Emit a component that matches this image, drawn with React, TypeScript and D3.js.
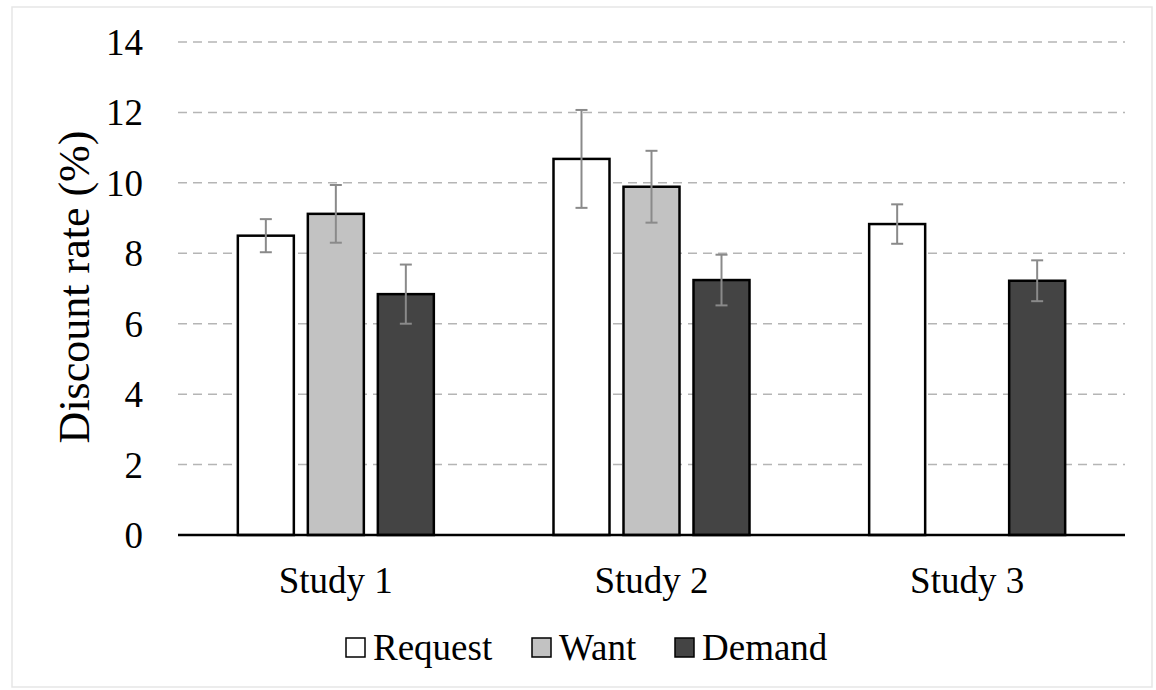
import React, { useRef, useEffect } from 'react';
import * as d3 from 'd3';

const studies = ['Study 1', 'Study 2', 'Study 3'];
const seriesNames = ['Request', 'Want', 'Demand'];
const request = [8.5, 10.68, 8.83];
const want = [9.12, 9.89, null];
const demand = [6.84, 7.24, 7.22];
const requestErr = [0.47, 1.39, 0.56];
const wantErr = [0.82, 1.02, null];
const demandErr = [0.84, 0.72, 0.58];
const yTicks = [0, 2, 4, 6, 8, 10, 12, 14];

const fills = ['#ffffff', '#c2c2c2', '#444444'];
const font = '"Liberation Serif", "Times New Roman", serif';

function App() {
  const svgRef = useRef<SVGSVGElement>(null);

  useEffect(() => {
    const svg = d3.select(svgRef.current);
    svg.selectAll('*').remove();

    const width = 1156;
    const height = 690;
    const plot = { left: 178, right: 1125, top: 42, bottom: 535 };

    // light frame around the figure
    svg.append('rect')
      .attr('x', 12).attr('y', 7)
      .attr('width', 1140).attr('height', 680)
      .attr('fill', '#fff')
      .attr('stroke', '#e6e6e6')
      .attr('stroke-width', 1.5);

    const x0 = d3.scaleBand().domain(studies).range([plot.left, plot.right]);
    const x1 = d3.scaleBand().domain(seriesNames)
      .range([x0.bandwidth() / 2 - 98, x0.bandwidth() / 2 + 98])
      .paddingInner(0.2);
    const y = d3.scaleLinear().domain([0, 14]).range([plot.bottom, plot.top]);

    // grid
    svg.append('g').selectAll('line')
      .data(yTicks.filter(t => t > 0))
      .enter().append('line')
      .attr('x1', plot.left).attr('x2', plot.right)
      .attr('y1', d => y(d)).attr('y2', d => y(d))
      .attr('stroke', '#b5b5b5')
      .attr('stroke-width', 1.5)
      .attr('stroke-dasharray', '9,6');

    // y tick labels
    svg.append('g').selectAll('text')
      .data(yTicks)
      .enter().append('text')
      .attr('x', 143)
      .attr('y', d => y(d))
      .attr('dy', '0.35em')
      .attr('text-anchor', 'end')
      .attr('font-family', font)
      .attr('font-size', 37)
      .attr('fill', '#000')
      .text(d => d);

    svg.append('text')
      .attr('transform', `translate(89,287) rotate(-90)`)
      .attr('text-anchor', 'middle')
      .attr('font-family', font)
      .attr('font-size', 44)
      .text('Discount rate (%)');

    const vals = [request, want, demand];
    const errs = [requestErr, wantErr, demandErr];
    const rows: { study: string; series: string; i: number; v: number; e: number }[] = [];
    studies.forEach((s, si) => {
      seriesNames.forEach((n, i) => {
        const v = vals[i][si];
        const e = errs[i][si];
        if (v != null) rows.push({ study: s, series: n, i, v, e: e as number });
      });
    });

    const g = svg.append('g');
    g.selectAll('rect.bar')
      .data(rows)
      .enter().append('rect')
      .attr('class', 'bar')
      .attr('x', d => x0(d.study)! + x1(d.series)!)
      .attr('y', d => y(d.v))
      .attr('width', x1.bandwidth())
      .attr('height', d => y(0) - y(d.v))
      .attr('fill', d => fills[d.i])
      .attr('stroke', '#000')
      .attr('stroke-width', 2.5);

    // error bars
    const eb = g.selectAll('g.err')
      .data(rows)
      .enter().append('g')
      .attr('stroke', '#8a8a8a')
      .attr('stroke-width', 2);
    const cx = (d: any) => x0(d.study)! + x1(d.series)! + x1.bandwidth() / 2;
    eb.append('line')
      .attr('x1', cx).attr('x2', cx)
      .attr('y1', d => y(d.v + d.e)).attr('y2', d => y(d.v - d.e));
    eb.append('line')
      .attr('x1', d => cx(d) - 6).attr('x2', d => cx(d) + 6)
      .attr('y1', d => y(d.v + d.e)).attr('y2', d => y(d.v + d.e));
    eb.append('line')
      .attr('x1', d => cx(d) - 6).attr('x2', d => cx(d) + 6)
      .attr('y1', d => y(d.v - d.e)).attr('y2', d => y(d.v - d.e));

    // baseline
    svg.append('line')
      .attr('x1', plot.left).attr('x2', plot.right)
      .attr('y1', y(0)).attr('y2', y(0))
      .attr('stroke', '#000')
      .attr('stroke-width', 2.5);

    // category labels
    svg.append('g').selectAll('text')
      .data(studies)
      .enter().append('text')
      .attr('x', d => x0(d)! + x0.bandwidth() / 2)
      .attr('y', 593)
      .attr('text-anchor', 'middle')
      .attr('font-family', font)
      .attr('font-size', 37)
      .text(d => d);

    // legend
    const legendX = [346, 532, 675];
    const lg = svg.append('g').selectAll('g')
      .data(seriesNames)
      .enter().append('g')
      .attr('transform', (d, i) => `translate(${legendX[i]},638)`);
    lg.append('rect')
      .attr('width', 19).attr('height', 19)
      .attr('fill', (d, i) => fills[i])
      .attr('stroke', '#000')
      .attr('stroke-width', 1.5);
    lg.append('text')
      .attr('x', 27)
      .attr('y', 22)
      .attr('font-family', font)
      .attr('font-size', 37)
      .text(d => d);

    svg.attr('width', width).attr('height', height);
  }, []);

  return (
    <svg ref={svgRef} width={1156} height={690}
      style={{ position: 'absolute', left: 0, top: 0, background: '#fff' }} />
  );
}

export default App;
